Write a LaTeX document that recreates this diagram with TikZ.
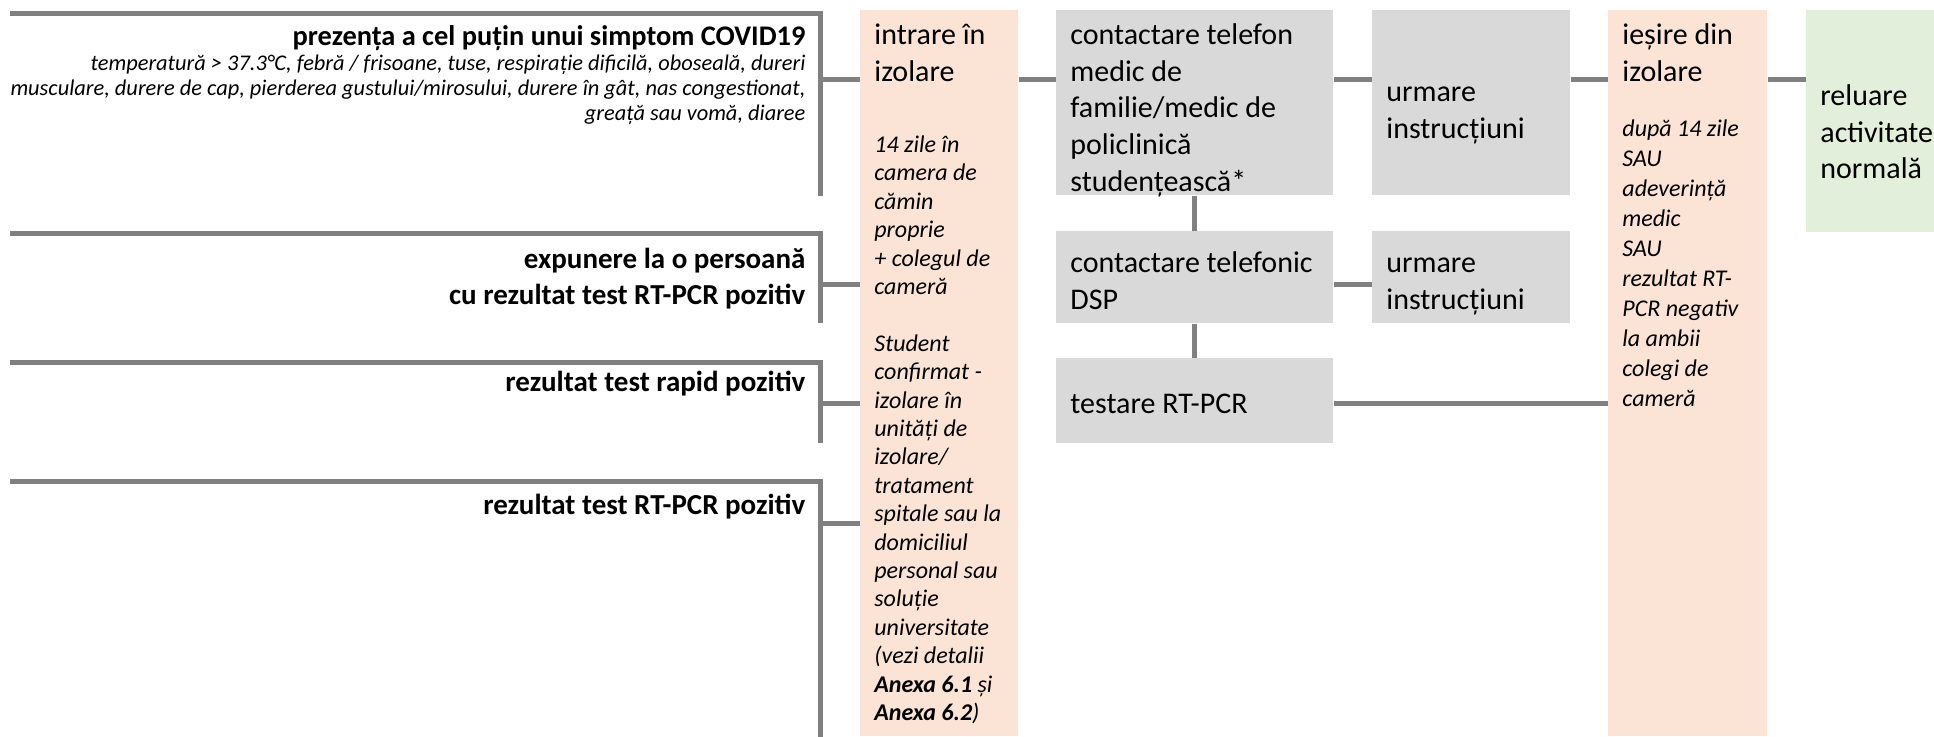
\documentclass[tikz,border=0pt]{standalone}
\usepackage{fontspec}
\setmainfont{Carlito}
\usepackage{tikz}
\usepackage{xcolor}
\definecolor{peach}{RGB}{251,228,213}
\definecolor{boxgray}{RGB}{217,217,217}
\definecolor{boxgreen}{RGB}{226,239,218}
\definecolor{linegray}{RGB}{128,128,128}
\newcommand{\bigtxt}{\fontsize{15}{18.35}\selectfont}
\newcommand{\casetxt}{\fontsize{14.5}{18}\selectfont\bfseries}
\newcommand{\titletxt}{\fontsize{14.2}{17}\selectfont\bfseries}
\newcommand{\symtxt}{\normalfont\fontsize{11.2}{12.5}\selectfont\itshape}
\newcommand{\isotxt}{\fontsize{12}{14.2}\selectfont\itshape}
\newcommand{\exittxt}{\fontsize{12}{15}\selectfont\itshape}
\tikzset{conn/.style={draw=linegray, line width=2.5pt}}
\tikzset{mybox/.style={fill=boxgray, anchor=north west, inner xsep=7pt, inner ysep=0pt, text width=124.5pt, align=flush left, font=\bigtxt}}
\tikzset{myboxNext/.style={mybox, text width=85pt}}
\tikzset{myboxEnd/.style={mybox, fill=boxgreen, text width=57pt}}
\tikzset{myboxIso/.style={fill=peach, anchor=north west, inner xsep=7pt, inner ysep=0pt, text width=65pt, align=flush left, text height=17pt, text depth=346pt, font=\bigtxt}}
\tikzset{myboxCase/.style={anchor=north west, inner xsep=7.5pt, inner ysep=0pt, text width=402.5pt, align=flush right, font=\casetxt}}

\begin{document}
\begin{tikzpicture}[x=0.5pt, y=-0.5pt]

\useasboundingbox (0,0) rectangle (1934,736);
\clip (0,0) rectangle (1934,736);

\coordinate (r1) at (0,79);
\coordinate (r2) at (0,284);
\coordinate (r3) at (0,403);
\coordinate (r4) at (0,523);

\node[myboxCase, text height=16pt, text depth=75pt] (s1) at (-15,13) {{\titletxt prezența a cel puțin unui simptom COVID19\par}
  {\symtxt temperatură > 37.3°C, febră / frisoane, tuse, respirație dificilă, oboseală, dureri\\musculare, durere de cap, pierderea gustului/mirosului, durere în gât, nas congestionat,\\greață sau vomă, diaree\par}};
\node[myboxCase, text height=17.5pt, text depth=27pt] (s2) at (-15,233) {expunere la o persoană\\cu rezultat test RT-PCR pozitiv};
\node[myboxCase, text height=14.5pt, text depth=25.5pt] (s3) at (-15,362) {rezultat test rapid pozitiv};
\node[myboxCase, text height=16.5pt, text depth=111pt] (s4) at (-15,481) {rezultat test RT-PCR pozitiv};

\node[myboxIso] (izol) at (860,10) {intrare în\\izolare\par\vspace{21.45pt}
  {\isotxt 14~zile~în\\camera~de\\cămin\\proprie\\+~colegul~de\\cameră\\[14.2pt]Student\\confirmat~-\\izolare~în\\unități~de\\izolare/\\tratament\\spitale~sau~la\\domiciliul\\personal~sau\\soluție\\universitate\\(vezi~detalii\\\textbf{Anexa~6.1}~și\\\textbf{Anexa~6.2})\par}};

\node[mybox, text height=17pt, text depth=75.5pt] (medic) at (1056,10) {contactare telefon\\medic de\\familie/medic de\\policlinică\\studențească*};
\node[mybox, text height=20.5pt, text depth=25.5pt] (dsp) at (1056,231) {contactare~telefonic\\DSP};
\node[mybox, text height=27.5pt, text depth=15pt] (pcr) at (1056,358) {testare RT-PCR};

\node[myboxNext, text height=45.5pt, text depth=47pt] (urm1) at (1372,10) {urmare\\instrucțiuni};
\node[myboxNext, text height=20.5pt, text depth=25.5pt] (urm2) at (1372,231) {urmare\\instrucțiuni};

\node[myboxIso, text width=65.5pt] (iesire) at (1608,10) {ieșire din\\izolare\par\vspace{12.65pt}
  {\exittxt după~14~zile\\SAU\\adeverință\\medic\\SAU\\rezultat~RT-\\PCR~negativ\\la~ambii\\colegi~de\\cameră\par}};

\node[myboxEnd, text height=47.5pt, text depth=63.5pt] (reluare) at (1806,10) {reluare\\activitate\\normală};

\draw[conn] (s1.north west) ++(25,0) -- (s1.north east) -- (s1.south east);
\draw[conn] (s2.north west) ++(25,0) -- (s2.north east) -- (s2.south east);
\draw[conn] (s3.north west) ++(25,0) -- (s3.north east) -- (s3.south east);
\draw[conn] (s4.north west) ++(25,0) -- (s4.north east) -- (s4.south east);

\draw[conn] (s1.east |- r1) -- (izol.west |- r1);
\draw[conn] (s2.east |- r2) -- (izol.west |- r2);
\draw[conn] (s3.east |- r3) -- (izol.west |- r3);
\draw[conn] (s4.east |- r4) -- (izol.west |- r4);

\draw[conn] (izol.east |- r1) -- (medic.west |- r1);
\draw[conn] (medic.east |- r1) -- (urm1.west |- r1);
\draw[conn] (urm1.east |- r1) -- (iesire.west |- r1);
\draw[conn] (iesire.east |- r1) -- (reluare.west |- r1);

\draw[conn] (medic) -- (dsp);
\draw[conn] (dsp) -- (pcr);
\draw[conn] (dsp.east |- r2) -- (urm2.west |- r2);
\draw[conn] (pcr.east |- r3) -- (iesire.west |- r3);

\end{tikzpicture}
\end{document}
